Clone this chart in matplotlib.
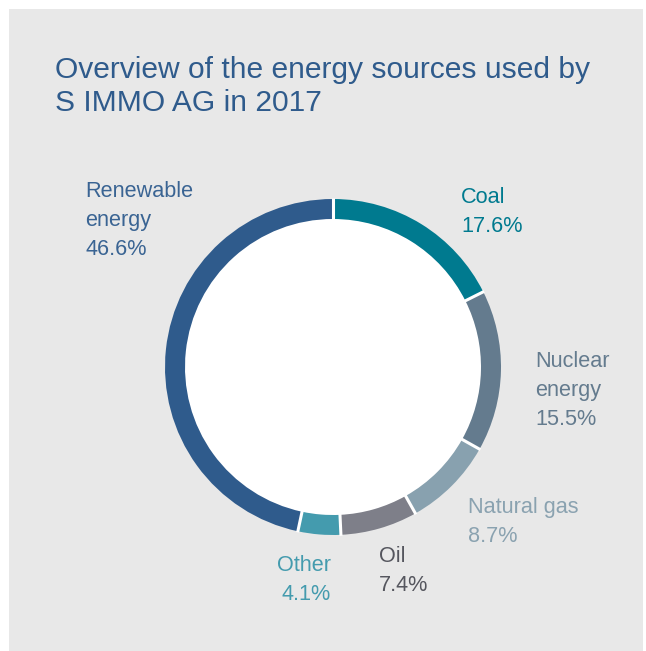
import numpy as np
import matplotlib.pyplot as plt
from matplotlib.patches import Rectangle, Circle

# data, clockwise from 12 o'clock
sources = ['Coal', 'Nuclear energy', 'Natural gas', 'Oil', 'Other', 'Renewable energy']
shares = [17.6, 15.5, 8.7, 7.4, 4.1, 46.6]
colors = ['#007a8f', '#647b8e', '#88a1af', '#7e7f89', '#449bae', '#2f5b8c']
label_colors = ['#007a8f', '#647b8e', '#8aa2b0', '#55565e', '#449bae', '#3a6493']
label_lines = [['Coal'], ['Nuclear', 'energy'], ['Natural gas'], ['Oil'], ['Other'],
               ['Renewable', 'energy']]

# label anchor (x, baseline of first line) in pixels from top-left, alignment
label_pos = [(461, 203, 'left'), (535, 367, 'left'), (468, 513, 'left'),
             (379, 562, 'left'), (331, 571, 'right'), (85, 197, 'left')]

W, H = 646, 651
fig = plt.figure(figsize=(W / 100, H / 100), dpi=100)
fig.patch.set_facecolor('white')
ax = fig.add_axes([0, 0, 1, 1])

font = 'Liberation Sans'

cx, cy = 333, H - 367
r_out, r_in = 168, 148
ax.pie(shares, colors=colors, startangle=90, counterclock=False,
       center=(cx, cy), radius=r_out,
       wedgeprops=dict(width=r_out - r_in, edgecolor='none', linewidth=0))
ax.add_patch(Circle((cx, cy), r_in + 0.5, facecolor='white', edgecolor='none', zorder=0.5))
ax.add_patch(Rectangle((9, 0), W - 12, H - 9, facecolor='#e8e8e8',
                       edgecolor='none', zorder=0))

# white separators between the segments
bounds = 90 - 360 * np.cumsum([0] + shares[:-1]) / sum(shares)
for a in np.radians(bounds):
    ax.plot([cx + (r_in - 1) * np.cos(a), cx + (r_out + 1) * np.cos(a)],
            [cy + (r_in - 1) * np.sin(a), cy + (r_out + 1) * np.sin(a)],
            color='white', lw=2.2, solid_capstyle='butt', zorder=3)

ax.set_xlim(0, W)
ax.set_ylim(0, H)
ax.set_aspect('equal')
ax.axis('off')

title = ['Overview of the energy sources used by', 'S IMMO AG in 2017']
for i, line in enumerate(title):
    ax.text(55, H - (78 + i * 33), line, fontsize=21.6, color='#2f5b8c',
            family=font, va='baseline', ha='left')

for lines, share, col, (x, y, ha) in zip(label_lines, shares, label_colors, label_pos):
    rows = lines + ['%.1f%%' % share]
    for j, row in enumerate(rows):
        ax.text(x, H - (y + j * 29), row, fontsize=15.6, color=col, family=font,
                va='baseline', ha=ha)

fig.savefig('out.png', dpi=100)
